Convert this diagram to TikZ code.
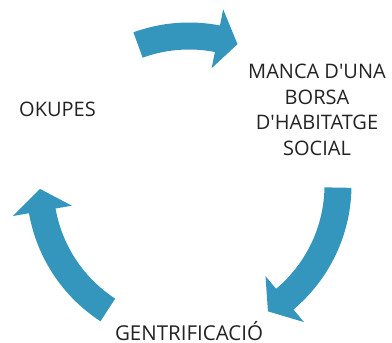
\documentclass[tikz,border=0pt]{standalone}
\usepackage{fontspec}
\setmainfont{Open Sans}
\usepackage{xcolor}
\usetikzlibrary{positioning,calc}
\definecolor{cycleblue}{RGB}{52,150,188}
\definecolor{textgray}{RGB}{35,35,35}
\tikzset{
  cycletext/.style={
    inner sep=0pt,
    align=center,
    text=textgray,
    font=\fontsize{20}{25.5}\selectfont
  },
  bentarrow/.style={
    fill=cycleblue,
    draw=none
  }
}
% tail angle, head base angle, tip angle
\newcommand{\cyclearrow}[3]{%
  \fill[bentarrow] (#1:162.5) arc[start angle=#1, end angle=#2, radius=162.5]
    -- (#2:179) -- (#3:149) -- (#2:119) -- (#2:135.5)
    arc[start angle=#2, end angle=#1, radius=135.5] -- cycle;}

\begin{document}
\begin{tikzpicture}[x=1pt, y=1pt]
\useasboundingbox (0,0) rectangle (392,-343);
\coordinate (ctr) at (189,-185);
\begin{scope}[shift={(ctr)}]
\cyclearrow{110}{79}{71}
\cyclearrow{-1}{-50}{-58}
\cyclearrow{-123}{-170}{-178.5}
\end{scope}
\node[cycletext, anchor=base] (okupes) at (57.5,-116) {OKUPES};
\node[cycletext, anchor=north] (manca) at (317,-64) {MANCA D\textquotesingle UNA\\BORSA\\D\textquotesingle HABITATGE\\SOCIAL};
\node[cycletext, anchor=base, font=\fontsize{20.5}{25.5}\selectfont] (gentri) at (189,-340.5) {GENTRIFICACIÓ};
\end{tikzpicture}
\end{document}
